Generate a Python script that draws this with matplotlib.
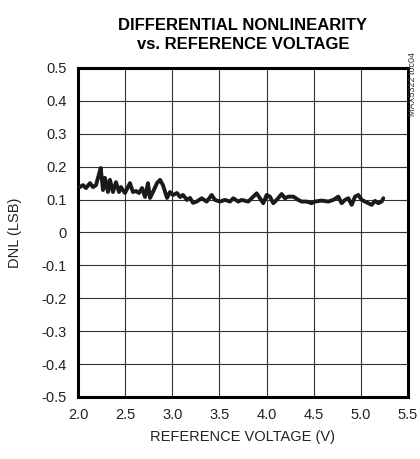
import matplotlib
matplotlib.use('Agg')
import matplotlib.pyplot as plt

plt.rcParams['font.family'] = ['Liberation Sans', 'DejaVu Sans']

# DNL trace
vref = [2.021, 2.053, 2.085, 2.127, 2.159, 2.191, 2.212, 2.241, 2.265, 2.286,
        2.318, 2.339, 2.371, 2.403, 2.435, 2.456, 2.498, 2.551, 2.583, 2.615,
        2.647, 2.679, 2.711, 2.742, 2.764, 2.795, 2.838, 2.870, 2.901, 2.944,
        2.976, 3.008, 3.050, 3.082, 3.114, 3.156, 3.188, 3.220, 3.259, 3.312,
        3.365, 3.418, 3.453, 3.506, 3.559, 3.612, 3.647, 3.700, 3.736, 3.806,
        3.859, 3.895, 3.930, 3.965, 4.001, 4.036, 4.071, 4.107, 4.160, 4.195,
        4.231, 4.284, 4.337, 4.372, 4.425, 4.478, 4.513, 4.584, 4.655, 4.708,
        4.761, 4.796, 4.832, 4.867, 4.903, 4.938, 4.973, 5.009, 5.044, 5.079,
        5.115, 5.150, 5.185, 5.221, 5.238]
dnl = [0.138, 0.144, 0.135, 0.150, 0.138, 0.144, 0.166, 0.196, 0.129, 0.166,
       0.123, 0.160, 0.123, 0.153, 0.123, 0.138, 0.120, 0.150, 0.123, 0.126,
       0.120, 0.135, 0.108, 0.150, 0.105, 0.123, 0.150, 0.160, 0.144, 0.105,
       0.123, 0.114, 0.120, 0.108, 0.114, 0.099, 0.105, 0.090, 0.094, 0.104,
       0.094, 0.114, 0.099, 0.094, 0.099, 0.094, 0.104, 0.094, 0.099, 0.094,
       0.109, 0.119, 0.104, 0.089, 0.114, 0.109, 0.089, 0.099, 0.117, 0.104,
       0.109, 0.109, 0.099, 0.094, 0.094, 0.089, 0.094, 0.097, 0.094, 0.099,
       0.109, 0.089, 0.099, 0.104, 0.084, 0.109, 0.114, 0.099, 0.094, 0.089,
       0.084, 0.096, 0.089, 0.094, 0.104]

xticks = [2.0, 2.5, 3.0, 3.5, 4.0, 4.5, 5.0, 5.5]
yticks = [0.5, 0.4, 0.3, 0.2, 0.1, 0, -0.1, -0.2, -0.3, -0.4, -0.5]
ylabels = ['0.5', '0.4', '0.3', '0.2', '0.1', '0', '-0.1', '-0.2', '-0.3', '-0.4', '-0.5']

fig = plt.figure(figsize=(4.2, 4.59), dpi=100)
ax = fig.add_axes([0.1857, 0.1351, 0.7857, 0.7168])

ax.plot(vref, dnl, color='#1a1a1a', lw=2.8, solid_joinstyle='round',
        solid_capstyle='round', zorder=3)

ax.set_xlim(2.0, 5.5)
ax.set_ylim(-0.5, 0.5)
ax.set_xticks(xticks)
ax.set_xticklabels(['%.1f' % t for t in xticks])
ax.set_yticks(yticks)
ax.set_yticklabels(ylabels)
ax.tick_params(length=0, labelsize=10.5, pad=8, colors='#222222')
ax.grid(True, color='#333333', lw=0.8)
for s in ax.spines.values():
    s.set_linewidth(2.2)
    s.set_color('black')

ax.set_xlabel('REFERENCE VOLTAGE (V)', fontsize=10.5, labelpad=6, color='#222222')
ax.set_ylabel('DNL (LSB)', fontsize=10.5, labelpad=14, color='#222222')

fig.text(0.578, 0.96, 'DIFFERENTIAL NONLINEARITY\nvs. REFERENCE VOLTAGE',
         ha='center', va='top', fontsize=12, fontweight='bold', linespacing=1.3)
fig.text(0.983, 0.887, 'MAX5322 toc04', rotation=90, ha='center', va='top',
         fontsize=6.5, color='#333333')

fig.savefig('out.png', dpi=100)
